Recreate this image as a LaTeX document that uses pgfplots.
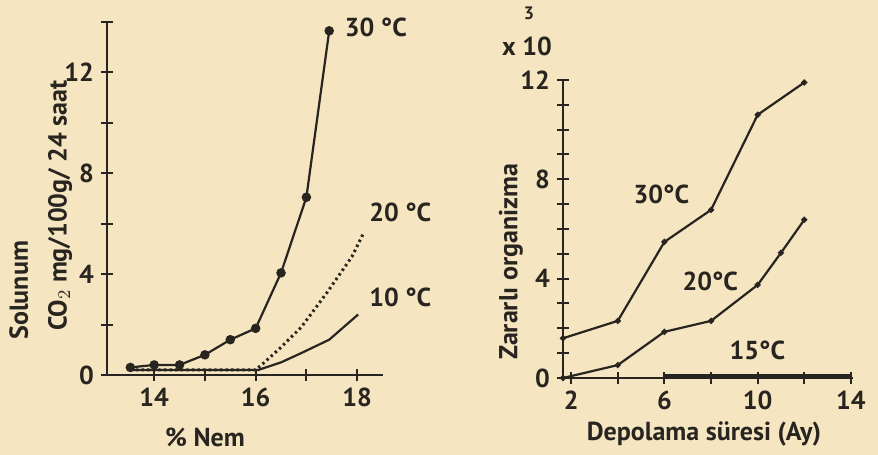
\documentclass[border=0pt]{standalone}
\usepackage{pgfplots}
\pgfplotsset{compat=1.18}
\usepackage{fontspec}
\setmainfont{PT Sans}
\definecolor{paper}{RGB}{245,229,192}
\definecolor{ink}{RGB}{40,36,32}
\tikzset{curvelabel/.style={font=\fontsize{13}{15}\selectfont\bfseries, text=ink}}
\begin{document}
\begin{tikzpicture}
\fill[paper] (0pt,0pt) rectangle (439pt,227.5pt);
% ---------------- left chart ----------------
\begin{axis}[
  scale only axis, clip=false,
  axis x line=bottom, axis y line=left,
  axis line style={ink, line width=1.1pt, -},
  tick style={ink, line width=1pt},
  major tick length=6pt, minor tick length=6pt,
  xticklabel={\bfseries\pgfmathparse{int(round(\tick))}\pgfmathresult},
  yticklabel={\bfseries\pgfmathparse{int(round(\tick))}\pgfmathresult},
  tick label style={font=\fontsize{13}{15}\selectfont\bfseries, text=ink},
  label style={font=\fontsize{13}{15}\selectfont\bfseries, text=ink},
  at={(53.5pt,40pt)}, anchor=south west,
  width=138pt, height=176.5pt,
  xmin=13.07, xmax=18.51, ymin=0, ymax=14,
  xtick={14,16,18}, minor xtick={15,17},
  ytick={0,4,8,12}, minor ytick={2,6,10,14},
  xlabel={\% Nem},
  xlabel style={at={(axis description cs:0.355,-0.176)}, anchor=center},
  ylabel={CO$_2$ mg/100g/ 24 saat},
  ylabel style={at={(axis description cs:-0.17,0.48)}, anchor=center},
]
\addplot[ink, line width=1.1pt, mark=*, mark size=1.8pt] coordinates {
 (13.53,0.3) (14,0.4) (14.5,0.4) (15,0.8) (15.5,1.4) (16,1.85) (16.5,4.05) (17,7.05) (17.45,13.65)};
\addplot[ink, line width=1.5pt, dash pattern=on 1.2pt off 1.6pt] coordinates {
 (13.53,0.2) (14.5,0.2) (15.5,0.2) (16,0.2) (16.2,0.55) (16.5,1.1) (16.9,1.9) (17.4,3.25) (17.9,4.7) (18.12,5.6)};
\addplot[ink, line width=1.1pt] coordinates {
 (13.53,0.2) (15,0.2) (16.05,0.2) (16.5,0.5) (16.9,0.87) (17.45,1.4) (18.02,2.4)};
\node[curvelabel] at (axis cs:18.37,13.79) {30 °C};
\node[curvelabel] at (axis cs:18.85,6.44) {20 °C};
\node[curvelabel] at (axis cs:18.85,3.06) {10 °C};
\node[curvelabel, rotate=90] at (axis description cs:-0.32,0.24) {Solunum};
\end{axis}
% ---------------- right chart ----------------
\begin{axis}[
  scale only axis, clip=false,
  axis x line=bottom, axis y line=left,
  axis line style={ink, line width=1.1pt, -},
  tick style={ink, line width=1pt},
  major tick length=6pt, minor tick length=6pt,
  xticklabel={\bfseries\pgfmathparse{int(round(\tick))}\pgfmathresult},
  yticklabel={\bfseries\pgfmathparse{int(round(\tick))}\pgfmathresult},
  tick label style={font=\fontsize{13}{15}\selectfont\bfseries, text=ink},
  label style={font=\fontsize{13}{15}\selectfont\bfseries, text=ink},
  at={(281.5pt,38.5pt)}, anchor=south west,
  width=145pt, height=149pt,
  xmin=1.65, xmax=14.09, ymin=0, ymax=12,
  xtick={2,6,10,14}, minor xtick={4,8,12},
  ytick={0,4,8,12}, minor ytick={1,2,3,5,6,7,9,10,11},
  xlabel={Depolama süresi (Ay)},
  xlabel style={at={(axis description cs:0.486,-0.188)}, anchor=center},
  ylabel={Zararlı organizma},
  ylabel style={at={(axis description cs:-0.18,0.39)}, anchor=center},
]
\addplot[ink, line width=1.1pt, mark=*, mark size=0.9pt] coordinates {
 (1.65,1.6) (4,2.3) (6,5.48) (8,6.77) (10,10.6) (12,11.9)};
\addplot[ink, line width=1.1pt, mark=*, mark size=0.9pt] coordinates {
 (1.65,0) (4,0.52) (6,1.86) (8,2.3) (10,3.75) (11,5.04) (12,6.37)};
\addplot[ink, line width=2.4pt] coordinates {
 (6,0.08) (8,0.08) (10,0.08) (12,0.08) (14.05,0.08)};
\node[curvelabel] at (axis cs:5.87,7.38) {30°C};
\node[curvelabel] at (axis cs:7.97,3.87) {20°C};
\node[curvelabel] at (axis cs:9.99,1.13) {15°C};
\node[curvelabel] at (axis description cs:-0.124,1.114) {x 10};
\node[font=\fontsize{9}{10}\selectfont\bfseries, text=ink] at (axis description cs:-0.117,1.225) {3};
\end{axis}
\pgfresetboundingbox
\useasboundingbox (0pt,0pt) rectangle (439pt,227.5pt);
\end{tikzpicture}
\end{document}
